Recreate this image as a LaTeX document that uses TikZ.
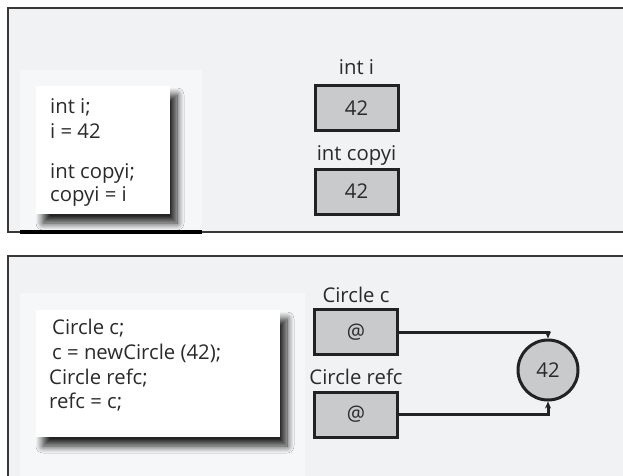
\documentclass[tikz,border=0pt]{standalone}
\usepackage{fontspec}
\setmainfont{Open Sans}
\usetikzlibrary{positioning,arrows.meta,shadows.blur}

\definecolor{panelbg}{HTML}{F1F2F4}
\definecolor{litebg}{HTML}{F6F7F8}
\definecolor{cellgray}{HTML}{C9CACC}
\definecolor{edgegray}{HTML}{222222}
\definecolor{inkgray}{HTML}{2A2A2A}

\tikzset{
  panel/.style={draw=edgegray!90, line width=2.4pt, fill=panelbg},
  codebox/.style={fill=white, draw=none, minimum width=#1, inner sep=0pt,
    blur shadow={shadow xshift=7pt, shadow yshift=-9pt, shadow blur radius=7pt, shadow blur steps=12, shadow opacity=85}},
  cell/.style={draw=edgegray, line width=3pt, fill=cellgray, minimum width=83pt, minimum height=45pt, inner sep=0pt},
  obj/.style={circle, draw=edgegray, line width=3pt, fill=cellgray, minimum size=60pt, inner sep=0pt},
  code/.style={anchor=base west, inner sep=0pt},
  varname/.style={anchor=base, inner sep=0pt},
  link/.style={->, line width=3pt, draw=edgegray}
}

\begin{document}
\begin{tikzpicture}[x=1pt, y=-1pt, >={Stealth[length=7pt,width=6pt]}, font=\fontsize{20.3}{25}\selectfont, text=inkgray]
    \useasboundingbox (0,0) rectangle (623,475);
    \clip (0,0) rectangle (623,475);

    % Value types panel
    \draw[panel] (8,8) rectangle (640,232);
    \fill[litebg] (20,70) rectangle (202,230);
    \draw[line width=4pt] (20,232) -- (202,232);

    \node[codebox=134pt, minimum height=128pt] (code1) at (103,150) {};
    \node[code] (l1) at (50,113) {int i;};
    \node[code] (l2) at (50,138) {i = 42};
    \node[code] (l3) at (50,178) {int copyi;};
    \node[code] (l4) at (50,201) {copyi = i};

    \node[cell] (vi) at (356.5,108) {42};
    \node[cell] (vcopy) at (356.5,191.5) {42};
    \node[varname] (ni) at ([yshift=10pt]vi.north) {int i};
    \node[varname] (ncopy) at ([yshift=7pt]vcopy.north) {int copyi};

    % Reference types panel
    \draw[panel] (8,256) rectangle (640,490);
    \fill[litebg] (20,293) rectangle (305,490);

    \node[codebox=244pt, minimum height=127pt] (code2) at (158,373.5) {};
    \node[code] (m1) at (52,334) {Circle c;};
    \node[code] (m2) at (52,359) {c = newCircle (42);};
    \node[code] (m3) at (49,384) {Circle refc;};
    \node[code] (m4) at (49,408) {refc = c;};

    \node[cell] (vc) at (356,332) {@};
    \node[cell] (vrefc) at (356,414.5) {@};
    \node[varname] (nc) at ([yshift=6pt]vc.north) {Circle c};
    \node[varname] (nrefc) at ([yshift=6pt]vrefc.north) {Circle refc};

    \node[obj] (circ) at (548,370) {42};

    % References
    \draw[link] (vc.east) -| (circ.north);
    \draw[link] (vrefc.east) -| (circ.south);
\end{tikzpicture}
\end{document}
